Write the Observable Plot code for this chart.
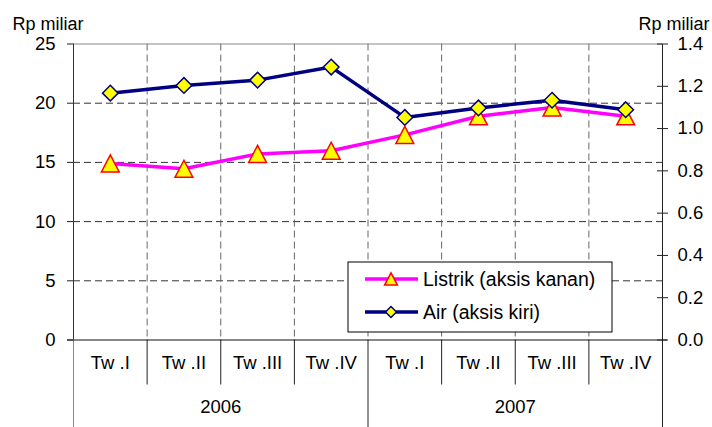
<!DOCTYPE html>
<html><head><meta charset="utf-8">
<script src="https://cdn.jsdelivr.net/npm/d3@7"></script>
<script src="https://cdn.jsdelivr.net/npm/@observablehq/plot@0.6"></script>
<style>html,body{margin:0;padding:0;background:#fff}</style>
</head><body><div id="chart"></div>
<script>
const quarters = ["Tw .I","Tw .II","Tw .III","Tw .IV","Tw .I","Tw .II","Tw .III","Tw .IV"];
const years = ["2006","2007"];
const air = [20.85, 21.5, 21.95, 23.05, 18.8, 19.6, 20.25, 19.45];
const listrik = [0.835, 0.81, 0.88, 0.895, 0.97, 1.058, 1.10, 1.058];
const leftTicks = [0, 5, 10, 15, 20, 25];
const rightTicks = [0, 0.2, 0.4, 0.6, 0.8, 1.0, 1.2, 1.4];
const unitLabel = "Rp miliar";
const legendLabels = ["Listrik (aksis kanan)", "Air (aksis kiri)"];

const leftMax = 25, rightMax = 1.4;
const k = leftMax / rightMax;
const rows = quarters.map((q, i) => ({i, q, air: air[i], listrik: listrik[i]}));
const X = d => d.i + 0.5;

const triSymbol = {draw(ctx) { ctx.moveTo(0, -8.5); ctx.lineTo(8.9, 8.5); ctx.lineTo(-8.9, 8.5); ctx.closePath(); }};
const diaSymbol = {draw(ctx) { ctx.moveTo(0, -7.8); ctx.lineTo(7.8, 0); ctx.lineTo(0, 7.8); ctx.lineTo(-7.8, 0); ctx.closePath(); }};

const font = "'Liberation Sans', Arial, sans-serif";
const fs = 18.5;
const dash = "7,4";

const chart = Plot.plot({
  width: 712, height: 427,
  marginLeft: 73, marginRight: 50, marginTop: 43.5, marginBottom: 87.5,
  style: {fontFamily: font, fontSize: fs + "px", background: "#fff", color: "#000"},
  x: {type: "linear", domain: [0, quarters.length], axis: null},
  y: {domain: [0, leftMax]},
  marks: [
    Plot.ruleY(leftTicks.filter(v => v > 0 && v < leftMax), {stroke: "#333", strokeDasharray: dash}),
    Plot.ruleX(d3.range(1, quarters.length), {stroke: "#666", strokeDasharray: dash}),
    Plot.ruleY([leftMax], {stroke: "#888"}),
    Plot.ruleX(d3.range(1, quarters.length).filter(v => v !== 4), {y1: 0, y2: 0, insetBottom: -45, stroke: "#222"}),
    Plot.ruleX([4], {y1: 0, y2: 0, insetBottom: -87.5, stroke: "#222"}),
    Plot.ruleX([0], {stroke: "#333"}),
    Plot.ruleX([0], {y1: 0, y2: 0, insetBottom: -87.5, stroke: "#888"}),
    Plot.ruleX([quarters.length], {stroke: "#222", insetBottom: -87.5}),
    Plot.ruleY([0], {stroke: "#111", insetLeft: -6, insetRight: -5}),
    Plot.ruleY(rightTicks.map(v => v * k), {x1: quarters.length, x2: quarters.length, insetLeft: -5, stroke: "#222"}),
    Plot.axisY(leftTicks, {anchor: "left", tickSize: 6, tickPadding: 12, fontSize: fs, label: null, stroke: "#222"}),
    Plot.axisY(rightTicks.map(v => v * k), {anchor: "right", tickSize: 5, tickPadding: 10, fontSize: fs, label: null, stroke: "#222",
      tickFormat: d => (d / k).toFixed(1)}),
    Plot.text(rows, {x: X, text: "q", frameAnchor: "bottom", dy: 29, fontSize: fs}),
    Plot.text(years, {x: (d, i) => i * 4 + 2, text: d => d, frameAnchor: "bottom", dy: 73, fontSize: fs}),
    Plot.text([unitLabel], {frameAnchor: "top-left", dx: -61, dy: -27, textAnchor: "start", fontSize: 18}),
    Plot.text([unitLabel], {frameAnchor: "top-right", dx: 47, dy: -27, textAnchor: "end", fontSize: 18}),
    Plot.line(rows, {x: X, y: d => d.listrik * k, stroke: "#ff00ff", strokeWidth: 3.5}),
    Plot.dot(rows, {x: X, y: d => d.listrik * k, symbol: triSymbol, r: 9, fill: "#ffff00", stroke: "#ff0000", strokeWidth: 1.5}),
    Plot.line(rows, {x: X, y: "air", stroke: "#000080", strokeWidth: 3.5}),
    Plot.dot(rows, {x: X, y: "air", symbol: diaSymbol, r: 8, fill: "#ffff00", stroke: "#000080", strokeWidth: 1.5})
  ]
});
document.getElementById("chart").appendChild(chart);

// Legend
const svg = d3.select(chart);
const lg = svg.append("g").attr("font-family", font).attr("font-size", 19.5).attr("text-anchor", "start");
lg.append("rect").attr("x", 348).attr("y", 262).attr("width", 264).attr("height", 70)
  .attr("fill", "#fff").attr("stroke", "#000").attr("stroke-width", 1);
const entries = [
  {label: legendLabels[0], color: "#ff00ff", sym: triSymbol, fill: "#ffff00", stroke: "#ff0000", y: 279, scale: 0.72},
  {label: legendLabels[1], color: "#000080", sym: diaSymbol, fill: "#ffff00", stroke: "#000080", y: 312, scale: 0.7}
];
entries.forEach(e => {
  lg.append("line").attr("x1", 365).attr("x2", 418).attr("y1", e.y).attr("y2", e.y)
    .attr("stroke", e.color).attr("stroke-width", 3.5);
  lg.append("path").attr("d", d3.symbol(e.sym)()).attr("transform", `translate(391,${e.y}) scale(${e.scale})`)
    .attr("fill", e.fill).attr("stroke", e.stroke).attr("stroke-width", 1.5 / e.scale);
  lg.append("text").attr("x", 423).attr("y", e.y).attr("dy", "0.35em").attr("text-anchor", "start").text(e.label);
});
</script>
</body></html>
